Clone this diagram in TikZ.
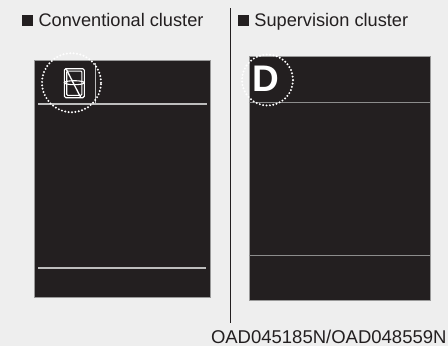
\documentclass[tikz,border=0pt]{standalone}
\usepackage{fontspec}
\setmainfont{Liberation Sans}
\usetikzlibrary{positioning}
\definecolor{bg}{HTML}{EEEEEE}
\definecolor{ink}{HTML}{231F20}
\definecolor{rulegray}{HTML}{BDBDBD}
\definecolor{rulegrayB}{HTML}{8C8C8C}

\begin{document}
\begin{tikzpicture}[
  x=1pt, y=-1pt,
  panel/.style={fill=ink, draw=black!40, line width=0.8pt},
  lcdline/.style={draw=rulegray, line width=1.3pt},
  lcdlineB/.style={draw=rulegrayB, line width=1.4pt},
  spot/.style={draw=white, line width=2.2pt, dash pattern=on 0pt off 3.4pt, line cap=round},
  seg/.style={draw=white, line width=1.1pt},
  title/.style={font=\fontsize{18.2}{20}\selectfont, text=ink, inner sep=0pt, anchor=base west},
  bullet/.style={fill=ink, minimum width=11pt, minimum height=10.7pt, inner sep=0pt},
]
  % ----- Background -----
  \fill[bg] (0,0) rectangle (448,346);
  \useasboundingbox (0,0) rectangle (448,346);

  % ----- Headings -----
  \node[bullet] (sqConv) at (27.8,20.3) {};
  \node[title] (tConv) at (38.4,26.7) {Conventional cluster};
  \node[bullet] (sqSup) at (243.7,20.3) {};
  \node[title] (tSup) at (254.2,26.7) {Supervision cluster};

  % Divider
  \coordinate (divTop) at (230.7,8);
  \coordinate (divBot) at (230.7,323);
  \draw[ink, line width=1.2pt] (divTop) -- (divBot);

  % ----- Conventional cluster -----
  \draw[panel] (34,60) rectangle (210.7,297);
  \draw[lcdline] (38,104) -- (207,104);
  \draw[lcdline] (38,268) -- (206,268);
  \draw[draw=rulegray, line width=0.8pt] (95,63) -- (95,104);

  % crossed-out gear digit
  \draw[seg, rounded corners=1.5pt] (64.3,68.7) rectangle (84.3,97.7);
  \draw[seg, rounded corners=1pt] (66.7,71.1) rectangle (81.9,95.3);
  \draw[seg] (74.3,82.7) ellipse (10pt and 2pt);
  \draw[seg, line width=1.3pt] (66.3,69.3) -- (80.5,97);

  \draw[spot] (71.5,82.7) circle (29.5pt);

  % ----- Supervision cluster -----
  \draw[panel] (249,56) rectangle (430,300);
  \draw[lcdlineB] (249,102.7) -- (430,102.7);
  \draw[lcdlineB] (249,255.7) -- (430,255.7);

  \node[font=\fontsize{37}{40}\selectfont\bfseries, text=white, inner sep=0pt] (gear) at (265.9,79.2) {D};
  \draw[spot] (267.5,80) circle (25.5pt);

  % ----- Code -----
  \node[font=\fontsize{18.5}{20}\selectfont, text=ink, inner sep=0pt, anchor=base west] (code) at (210.8,343.3) {OAD045185N/OAD048559N};
\end{tikzpicture}
\end{document}
